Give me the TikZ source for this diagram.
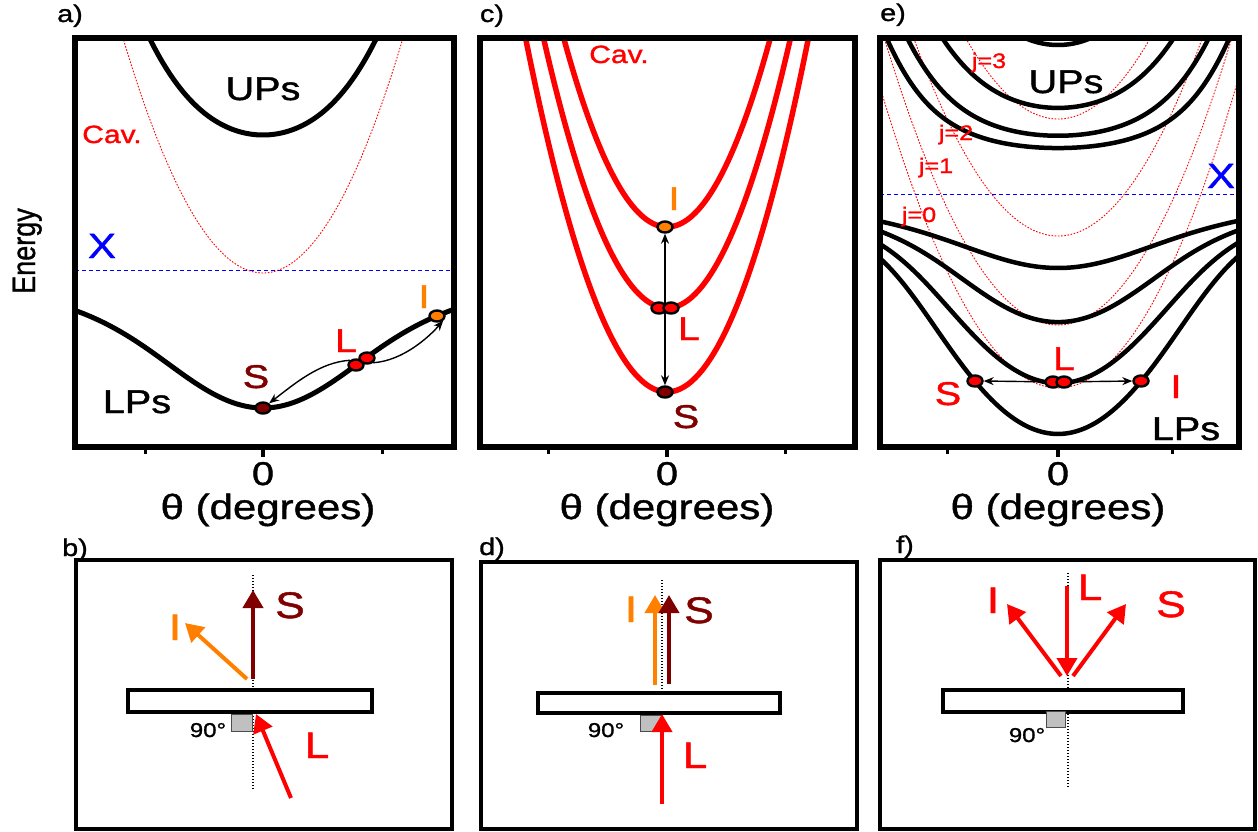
\documentclass[tikz,border=0pt]{standalone}
\usepackage{fontspec}
\setmainfont{Liberation Sans}
\newfontfamily\wf{Liberation Sans}[FakeStretch=1.2,FakeBold=1.2]
\newfontfamily\ef{Liberation Sans}[FakeBold=1.2]
\usetikzlibrary{shapes.geometric,arrows.meta}
\definecolor{dred}{RGB}{128,0,0}
\definecolor{orng}{RGB}{255,128,0}
\definecolor{sqgray}{RGB}{192,192,192}
\newcommand\fsz[1]{\fontsize{#1}{#1}\selectfont}
% panel a: cavity, LP, UP (pixel y, downward)
\newcommand\caX[1]{(273-0.012*(#1)*(#1))}
\newcommand\dcaX[1]{((\caX{#1}-270)/20)}
\newcommand\lpaX[1]{((\caX{#1}+270)/2+10*sqrt(\dcaX{#1}*\dcaX{#1}+186.3))}
\newcommand\upaX[1]{((\caX{#1}+270)/2-10*sqrt(\dcaX{#1}*\dcaX{#1}+186.3))}
% panel e: cavity mode with bottom #1, position #2
\newcommand\ceX[2]{(#1-0.0095*(#2)*(#2))}
\newcommand\dceX[2]{((\ceX{#1}{#2}-194)/20)}
\newcommand\lpeX[2]{((\ceX{#1}{#2}+194)/2+10*sqrt(\dceX{#1}{#2}*\dceX{#1}{#2}+110.25))}
\newcommand\upeX[2]{((\ceX{#1}{#2}+194)/2-10*sqrt(\dceX{#1}{#2}*\dceX{#1}{#2}+110.25))}
\begin{document}
\begin{tikzpicture}[x=1pt,y=-1pt,
 txt/.style={inner sep=0pt, anchor=base, font={\wf\fsz{#1}}},
 txt/.default=33,
 frame/.style={line width=6pt},
 bframe/.style={line width=3.5pt},
 pol/.style={line width=5pt, black},
 pole/.style={line width=4.5pt, black},
 redline/.style={line width=5.5pt, red},
 cav/.style={red, line width=0.9pt, dash pattern=on 1.6pt off 1.6pt},
 exc/.style={blue, line width=1pt, dash pattern=on 4pt off 3pt},
 pdot/.style={ellipse, draw=black, line width=2.4pt, minimum width=15pt, minimum height=11pt, inner sep=0pt},
 thinarr/.style={-{Stealth[length=10pt,width=8pt]}, line width=1.4pt},
 bigarr/.style={line width=4pt, -{Triangle[length=18pt,width=20pt]}},
 vdot/.style={line width=1.2pt, dash pattern=on 1pt off 2pt},
 plate/.style={line width=4.5pt, fill=white},
 rsq/.style={fill=sqgray, draw=black!70, line width=1pt},
 tick/.style={line width=3pt},
]
\useasboundingbox (0,0) rectangle (1258,831);

% ---------------- panel labels ----------------
\node[txt=24] (la) at (70,22) {a)};
\node[txt=24] (lc) at (492,22) {c)};
\node[txt=24] (le) at (893,21) {e)};
\node[txt=24] (lb) at (75,556) {b)};
\node[txt=24] (ld) at (492,555) {d)};
\node[txt=24] (lf) at (905,553) {f)};

% ---------------- axis labels ----------------
\node[inner sep=0pt, anchor=base, rotate=90, font={\ef\fsz{27}}] (energy) at (35,251) {\scalebox{1}[1.2]{Energy}};
\foreach \cx/\tx/\nm in {263/268/a,667/667/c,1058/1058/e}{
  \node[txt=33] (zero\nm) at (\cx,485) {0};
  \node[txt=35] (theta\nm) at (\tx,519) {θ (degrees)};
}
\foreach \tk in {145,382,548,785,947,1172} \draw[tick] (\tk,447) -- (\tk,454);
\foreach \tk in {263,667,1058} \draw[line width=4pt] (\tk,447) -- (\tk,457);

% ================= panel a =================
\begin{scope}
\clip (75,38) rectangle (454,447);
\draw[cav] plot[variable=\t,domain=-150:150,samples=80,smooth] ({263+\t},{\caX{\t}});
\draw[exc] (75,270) -- (454,270);
\draw[pol] plot[variable=\t,domain=-125:125,samples=90,smooth] ({263+\t},{\upaX{\t}});
\draw[pol] plot[variable=\t,domain=-192:194,samples=140,smooth] ({263+\t},{\lpaX{\t}});
\end{scope}
\draw[frame] (75,38) rectangle (454,447);
\node[txt] (upsa) at (263,100) {UPs};
\node[txt] (lpsa) at (137,413) {LPs};
\node[txt=25, red] (cava) at (112,143) {Cav.};
\node[txt=35, blue] (xa) at (102,258) {X};
\node[pdot, fill=dred] (Sa) at (263,408) {};
\node[pdot, fill=red] (La1) at (356,365) {};
\node[pdot, fill=red] (La2) at (367,358) {};
\node[pdot, fill=orng] (Ia) at (437,316) {};
\draw[thinarr] (La1.north west) .. controls +(-30,2) and +(26,-20) .. (Sa.north east);
\draw[thinarr] (La2.south east) .. controls +(30,-2) and +(-14,16) .. (Ia.south east);
\node[txt, dred] (sa) at (256,388) {S};
\node[txt, red] (lla) at (346,352) {L};
\node[txt, orng] (ia) at (424,308) {I};

% ================= panel c =================
\begin{scope}
\clip (480,38) rectangle (855,447);
\foreach \b in {227,308,392}
  \draw[redline] plot[variable=\t,domain=-150:150,samples=80,smooth] ({667+\t},{\b-0.0177*(\t)*(\t)});
\end{scope}
\draw[frame] (480,38) rectangle (855,447);
\node[txt=25, red] (cavc) at (619,63) {Cav.};
\coordinate (Lcm) at (665,308);
\node[pdot, fill=orng] (Ic) at (665,227) {};
\node[pdot, fill=dred] (Sc) at (665,392) {};
\draw[thinarr] (Lcm) -- (Ic.south);
\draw[thinarr] (Lcm) -- (Sc.north);
\node[pdot, fill=red] (Lc1) at (659,308) {};
\node[pdot, fill=red] (Lc2) at (671,308) {};
\node[txt, orng] (ic) at (674,210) {I};
\node[txt, red] (llc) at (689,340) {L};
\node[txt, dred] (sc) at (686,428) {S};

% ================= panel e =================
\begin{scope}
\clip (880,38) rectangle (1239,447);
\foreach \cc in {388,325,236,119}
  \draw[cav] plot[variable=\t,domain=-192:192,samples=80,smooth] ({1058+\t},{\ceX{\cc}{\t}});
\draw[exc] (880,194) -- (1239,194);
\foreach \cc in {388,325,236,119}{
  \draw[pole] plot[variable=\t,domain=-184:184,samples=120,smooth] ({1058+\t},{\lpeX{\cc}{\t}});
  \draw[pole] plot[variable=\t,domain=-184:184,samples=120,smooth] ({1058+\t},{\upeX{\cc}{\t}});
}
\end{scope}
\draw[frame] (880,38) rectangle (1239,447);
\node[txt] (upse) at (1066,93) {UPs};
\node[txt] (lpse) at (1186,440) {LPs};
\node[txt=35, blue] (xe) at (1221,188) {X};
\node[txt=21, red] (j3) at (989,68) {j=3};
\node[txt=21, red] (j2) at (956,140) {j=2};
\node[txt=21, red] (j1) at (936,173) {j=1};
\node[txt=21, red] (j0) at (919,222) {j=0};
\coordinate (Lem) at (1058,382);
\node[pdot, fill=red] (Se) at (975,381) {};
\node[pdot, fill=red] (Ie) at (1141,381) {};
\draw[thinarr] (Lem) -- (Se.east);
\draw[thinarr] (Lem) -- (Ie.west);
\node[pdot, fill=red] (Le1) at (1053,382) {};
\node[pdot, fill=red] (Le2) at (1064,382) {};
\node[txt, red] (se) at (948,405) {S};
\node[txt, red] (ie) at (1176,398) {I};
\node[txt, red] (lle) at (1064,370) {L};

% ================= panel b =================
\draw[bframe] (76,560) rectangle (452,829);
\draw[vdot] (253,575) -- (253,790);
\draw[plate] (128,690) rectangle (372,712);
\draw[rsq] (231,714) rectangle (252,731);
\node[txt=20] (nb) at (208,737) {90°};
\coordinate (b0) at (253,679);
\coordinate (b1) at (247,679);
\coordinate (bS) at (253,590);
\coordinate (bI) at (185,623);
\coordinate (bL0) at (291,798);
\coordinate (bL) at (256,714);
\draw[bigarr, dred] (b0) -- (bS);
\draw[bigarr, orng] (b1) -- (bI);
\draw[bigarr, red] (bL0) -- (bL);
\node[txt=37, dred] (sb) at (290,618) {S};
\node[txt=37, orng] (ib) at (175,640) {I};
\node[txt=37, red] (lb2) at (317,758) {L};

% ================= panel d =================
\draw[bframe] (481,562) rectangle (857,829);
\draw[vdot] (662,580) -- (662,717);
\draw[plate] (538,693) rectangle (780,713);
\draw[rsq] (640,715) rectangle (661,731);
\node[txt=20] (nd) at (606,737) {90°};
\coordinate (dI0) at (655,685);
\coordinate (dI) at (655,595);
\coordinate (dS0) at (669,684);
\coordinate (dS) at (669,595);
\coordinate (dL0) at (662,804);
\coordinate (dL) at (662,714);
\draw[bigarr, orng] (dI0) -- (dI);
\draw[bigarr, dred] (dS0) -- (dS);
\draw[bigarr, red] (dL0) -- (dL);
\node[txt=37, orng] (id) at (631,622) {I};
\node[txt=37, dred] (sd) at (699,623) {S};
\node[txt=37, red] (ldd) at (695,768) {L};

% ================= panel f =================
\draw[bframe] (880,560) rectangle (1255,829);
\draw[vdot] (1068,573) -- (1068,787);
\draw[plate] (943,690) rectangle (1183,712);
\draw[rsq] (1046,711) rectangle (1065,727);
\node[txt=20] (nf) at (1027,742) {90°};
\coordinate (fL0) at (1067,586);
\coordinate (fL) at (1067,676);
\coordinate (fI0) at (1061,676);
\coordinate (fI) at (1007,604);
\coordinate (fS0) at (1073,676);
\coordinate (fS) at (1126,604);
\draw[bigarr, red] (fL0) -- (fL);
\draw[bigarr, red] (fI0) -- (fI);
\draw[bigarr, red] (fS0) -- (fS);
\node[txt=37, red] (iff) at (993,613) {I};
\node[txt=37, red] (lf2) at (1090,600) {L};
\node[txt=37, red] (sf) at (1171,617) {S};
\end{tikzpicture}
\end{document}
